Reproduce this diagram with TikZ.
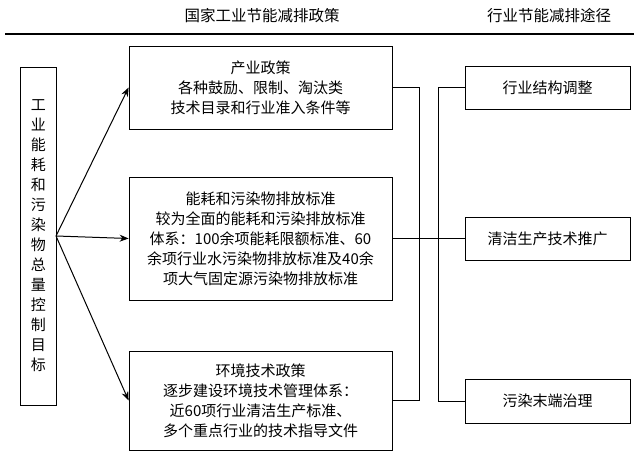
\documentclass[tikz,border=0pt]{standalone}
\usepackage{fontspec}
\setmainfont{Noto Sans CJK SC}
\usetikzlibrary{arrows.meta}
\begin{document}
\begin{tikzpicture}[x=1pt,y=-1pt,
  bx/.style={draw,thick,align=center,inner sep=0pt,font=\fontsize{15}{20}\selectfont},
  ln/.style={thick},
  ar/.style={line width=1pt,-{Stealth[length=9pt,width=7pt]}}]
\useasboundingbox (0,0) rectangle (640,457);
\node[font=\fontsize{15.5}{18}\selectfont] (h1) at (262,16) {国家工业节能减排政策};
\node[font=\fontsize{15.5}{18}\selectfont] (h2) at (549,16) {行业节能减排途径};
\draw[line width=1.4pt] (5,34) -- (634,34);
\node[bx,minimum width=35.5pt,minimum height=338pt] (L) at (38.25,236) {工\\业\\能\\耗\\和\\污\\染\\物\\总\\量\\控\\制\\目\\标};
\node[bx,minimum width=263pt,minimum height=83pt] (B1) at (260.5,87.5) {产业政策\\各种鼓励、限制、淘汰类\\技术目录和行业准入条件等};
\node[bx,minimum width=263pt,minimum height=123pt] (B2) at (260.5,238.5) {能耗和污染物排放标准\\较为全面的能耗和污染排放标准\\体系：100余项能耗限额标准、60\\余项行业水污染物排放标准及40余\\项大气固定源污染物排放标准};
\node[bx,minimum width=263pt,minimum height=99pt] (B3) at (260.5,400.5) {环境技术政策\\逐步建设环境技术管理体系：\\近60项行业清洁生产标准、\\多个重点行业的技术指导文件};
\node[bx,minimum width=165pt,minimum height=43pt] (R1) at (547.5,87.5) {行业结构调整};
\node[bx,minimum width=165pt,minimum height=43pt] (R2) at (547.5,238.5) {清洁生产技术推广};
\node[bx,minimum width=165pt,minimum height=44pt] (R3) at (547.5,401) {污染末端治理};
\coordinate (s) at (56,236);
\draw[ar] (s) -- (B1.west);
\draw[ar] (s) -- (B2.west);
\draw[ar] (s) -- (B3.west);
\draw[ln] (B1.east) -- (419,87.5) -- (419,400.5) -- (B3.east);
\draw[ln] (R1.west) -- (438,87.5) -- (438,401) -- (R3.west);
\draw[ln] (B2.east) -- (R2.west);
\end{tikzpicture}
\end{document}
